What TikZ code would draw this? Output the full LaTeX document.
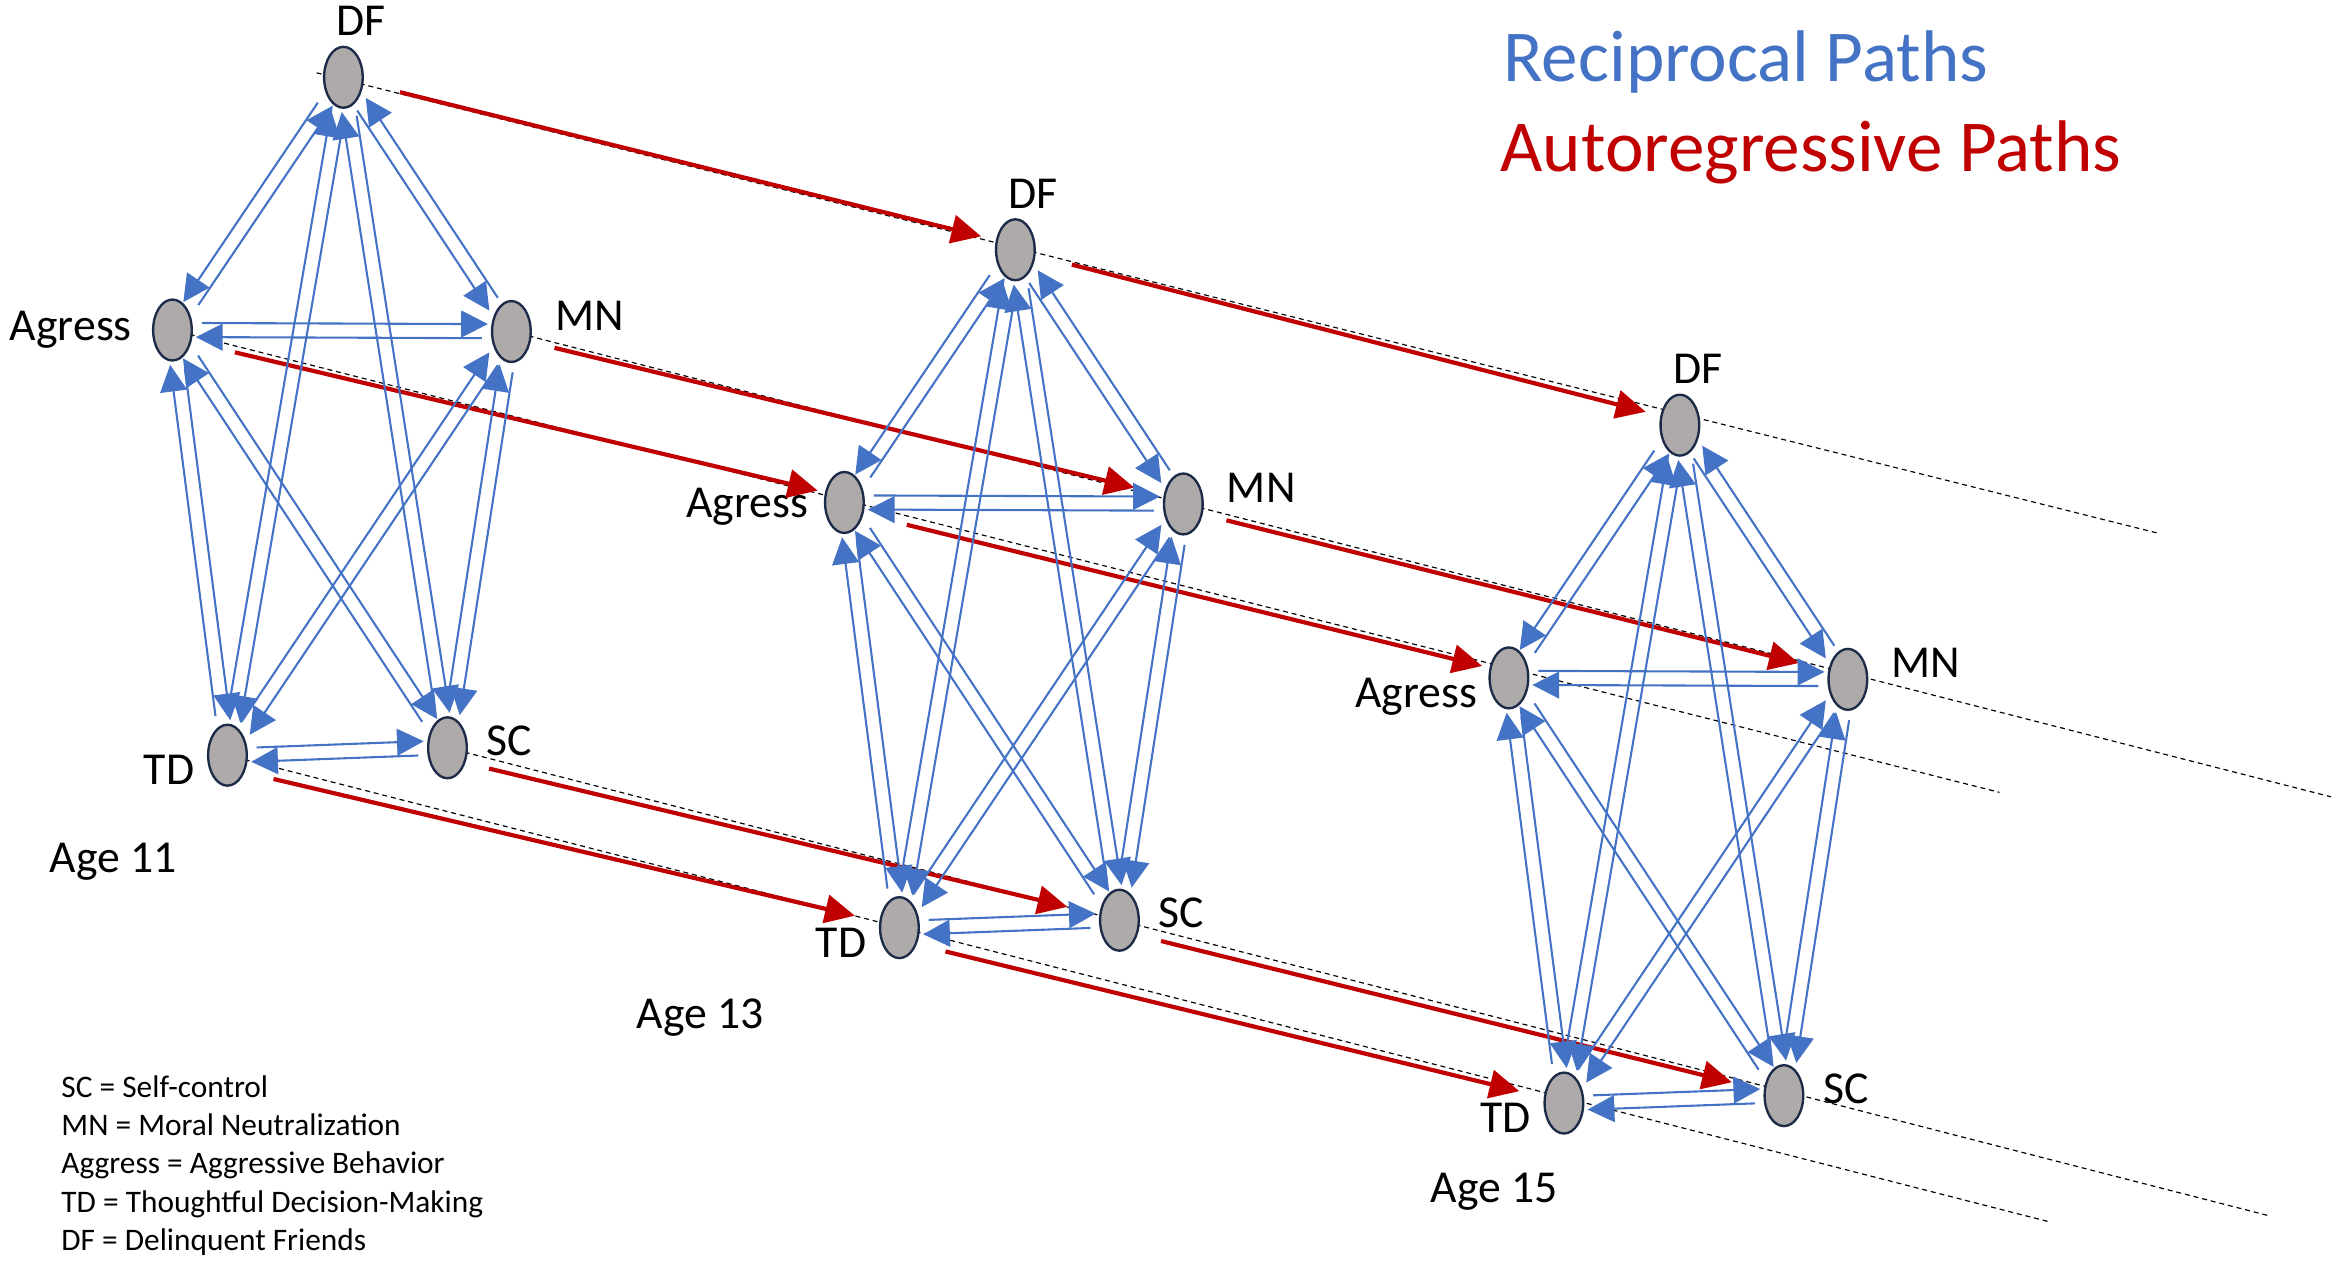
\documentclass[tikz,border=0pt]{standalone}
\usepackage{fontspec}
\setmainfont{Carlito}
\usepackage{xcolor}
\usetikzlibrary{arrows.meta,calc,backgrounds,shapes.geometric}
\definecolor{recipblue}{HTML}{4472C4}
\definecolor{autored}{HTML}{C00000}
\definecolor{nodegray}{HTML}{AEAAAA}
\definecolor{nodeline}{HTML}{1C2B48}

\begin{document}
\begin{tikzpicture}[x=0.02cm, y=-0.02cm,
    varnode/.style={ellipse, draw=nodeline, line width=0.9pt, fill=nodegray, minimum width=0.52cm, minimum height=0.82cm, inner sep=0pt},
    varname/.style={font=\fontsize{17.5}{21}\selectfont, inner sep=0pt},
    recip/.style={draw=recipblue, line width=0.8pt, -{Triangle[length=0.36cm,width=0.36cm]}, shorten <=0.12cm, shorten >=0.04cm},
    autoreg/.style={draw=autored, line width=1.6pt, -{Triangle[length=0.4cm,width=0.38cm]}},
    trail/.style={draw=black, line width=0.45pt, dash pattern=on 1.9pt off 1.5pt}]
\useasboundingbox (0,0) rectangle (1568,848);

\foreach \t/\dx/\dy/\ax/\ay in {11/0/0/-27/7, 13/452/116/-24/10, 15/899/234/-21/20}{
  \begin{scope}[shift={(\dx,\dy)}]
    \node[varnode] (DF\t) at (231,52) {};
    \node[varnode] (Ag\t) at (116,222) {};
    \node[varnode] (MN\t) at (344,223) {};
    \node[varnode] (TD\t) at (153,508) {};
    \node[varnode] (SC\t) at (301,503) {};
    \node[varname, anchor=base] (DFl\t) at (243,24) {DF};
    \node[varname, anchor=base east] (Agl\t) at (116+\ax,222+\ay) {Agress};
    \node[varname, anchor=base west] (MNl\t) at (373,222) {MN};
    \node[varname, anchor=base east] (TDl\t) at (131,528) {TD};
    \node[varname, anchor=base west] (SCl\t) at (327,508) {SC};
  \end{scope}
}

\node[varname, anchor=base west] (age11) at (33,587) {Age 11};
\node[varname, anchor=base west] (age13) at (428,692) {Age 13};
\node[varname, anchor=base west] (age15) at (962,809) {Age 15};

\begin{scope}[on background layer]
  \coordinate (DFend) at (1453,359);
  \coordinate (Agend) at (1345,533);
  \coordinate (MNend) at (1568,536);
  \coordinate (TDend) at (1379,822);
  \coordinate (SCend) at (1527,818);
  \draw[trail] ([shift={(-18,-3)}]DF11.center) -- (DFend);
  \foreach \v in {Ag,MN,TD,SC}
    \draw[trail] (\v11.center) -- (\v end);
\end{scope}

\foreach \v/\sx/\sy/\ex/\ey in {DF/38/10/-23/-9, Ag/42/15/-18/-8, MN/29/11/-33/-11, TD/31/16/-30/-8, SC/28/14/-35/-9}
  \foreach \f/\g in {11/13, 13/15}
    \draw[autoreg] ([shift={(\sx,\sy)}]\v\f.center) -- ([shift={(\ex,\ey)}]\v\g.center);

\foreach \t in {11,13,15}
  \foreach \a/\b/\s in {DF/Ag/-1, DF/MN/-1, DF/TD/1, DF/SC/1, Ag/MN/1, Ag/TD/1, Ag/SC/1, MN/TD/1, MN/SC/1, TD/SC/1}{
    \pgfmathsetmacro\off{2.7*\s}
    \draw[recip] let \p1=($(\b\t)-(\a\t)$), \n1={atan2(\y1,\x1)}, \n2={\n1+180} in
      ($(\a\t.\n1)!\off pt!90:(\b\t.\n2)$) -- ($(\b\t.\n2)!\off pt!-90:(\a\t.\n1)$);
    \draw[recip] let \p1=($(\b\t)-(\a\t)$), \n1={atan2(\y1,\x1)}, \n2={\n1+180} in
      ($(\b\t.\n2)!\off pt!90:(\a\t.\n1)$) -- ($(\a\t.\n1)!\off pt!-90:(\b\t.\n2)$);
  }

\node[anchor=base west, inner sep=0pt, text=recipblue, font=\fontsize{28}{34}\selectfont] (recleg) at (1011,55) {Reciprocal Paths};
\node[anchor=base west, inner sep=0pt, text=autored, font=\fontsize{28}{34}\selectfont] (autoleg) at (1009,115.5) {Autoregressive Paths};

\node[anchor=base west, inner sep=0pt, align=left, font=\fontsize{12}{14.63}\selectfont] (abbrev) at (41,841)
  {SC = Self-control\\MN = Moral Neutralization\\Aggress = Aggressive Behavior\\TD = Thoughtful Decision-Making\\DF = Delinquent Friends};
\end{tikzpicture}
\end{document}
